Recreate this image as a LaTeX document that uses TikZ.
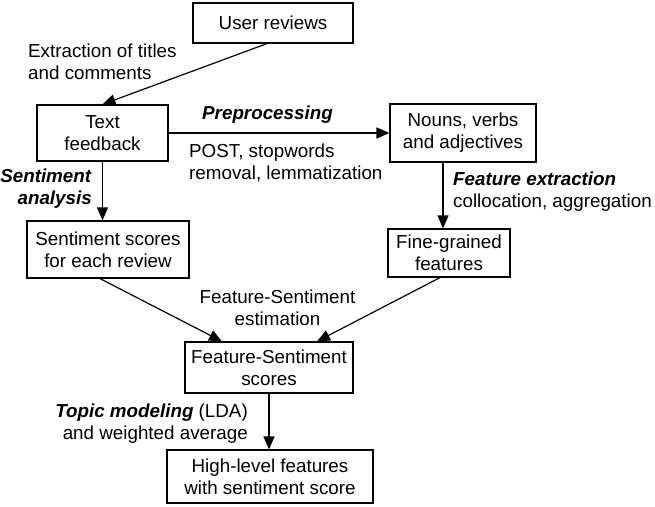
\documentclass[tikz,border=0pt]{standalone}
\usepackage{fontspec}
\setmainfont{Liberation Sans}
\usetikzlibrary{arrows.meta}

\begin{document}
\begin{tikzpicture}[x=1pt,y=-1pt,
  font=\fontsize{18.8}{22}\selectfont,
  box/.style={draw,line width=1.2pt,align=center,inner sep=0pt},
  lbl/.style={inner sep=0pt},
  flow/.style={-{Triangle[length=13pt,width=11pt]},line width=1.2pt}]
  \useasboundingbox (0,0) rectangle (655,506);
  % boxes
  \node[box,minimum width=160pt,minimum height=40pt] (reviews) at (273,23) {User reviews};
  \node[box,minimum width=131pt,minimum height=56pt] (text) at (102.5,133) {Text\\feedback};
  \node[box,minimum width=146pt,minimum height=58pt] (nouns) at (463,133) {Nouns, verbs\\and adjectives};
  \node[box,minimum width=162pt,minimum height=57pt] (sent) at (108,249.5) {Sentiment scores\\for each review};
  \node[box,minimum width=122pt,minimum height=48pt] (fine) at (449,253) {Fine-grained\\features};
  \node[box,minimum width=168pt,minimum height=51pt] (fsscore) at (269,367.5) {Feature-Sentiment\\scores};
  \node[box,minimum width=206pt,minimum height=53pt] (high) at (270,476.5) {High-level features\\with sentiment score};
  % labels
  \node[lbl,anchor=west,align=left] (extract) at (28,62) {Extraction of titles\\and comments};
  \node[lbl,anchor=base] (prep) at (267.5,119) {\textbf{\textit{Preprocessing}}};
  \node[lbl,anchor=west,align=left] (post) at (189,163) {POST, stopwords\\removal, lemmatization};
  \node[lbl,anchor=east,align=right] (sa) at (92,189) {\textbf{\textit{Sentiment}}\\\textbf{\textit{analysis}}};
  \node[lbl,anchor=west,align=left] (fe) at (453,192) {\textbf{\textit{Feature extraction}}\\collocation, aggregation};
  \node[lbl,align=center] (est) at (277.5,308) {Feature-Sentiment\\estimation};
  \node[lbl,anchor=east,align=right] (topic) at (248,424) {\textbf{\textit{Topic modeling}} (LDA)\\and weighted average};
  % connectors
  \draw[flow] ([xshift=-6pt]reviews.south) -- (text.north);
  \draw[flow] (text.east) -- (nouns.west);
  \draw[flow] (text.south) -- (text.south |- sent.north);
  \draw[flow] ([xshift=-20pt]nouns.south) -- ([xshift=-6pt]fine.north);
  \draw[flow] ([xshift=-8pt]sent.south) -- ([xshift=-47pt]fsscore.north);
  \draw[flow] ([xshift=-9pt]fine.south) -- ([xshift=48pt]fsscore.north);
  \draw[flow] (fsscore.south) -- (fsscore.south |- high.north);
\end{tikzpicture}
\end{document}
